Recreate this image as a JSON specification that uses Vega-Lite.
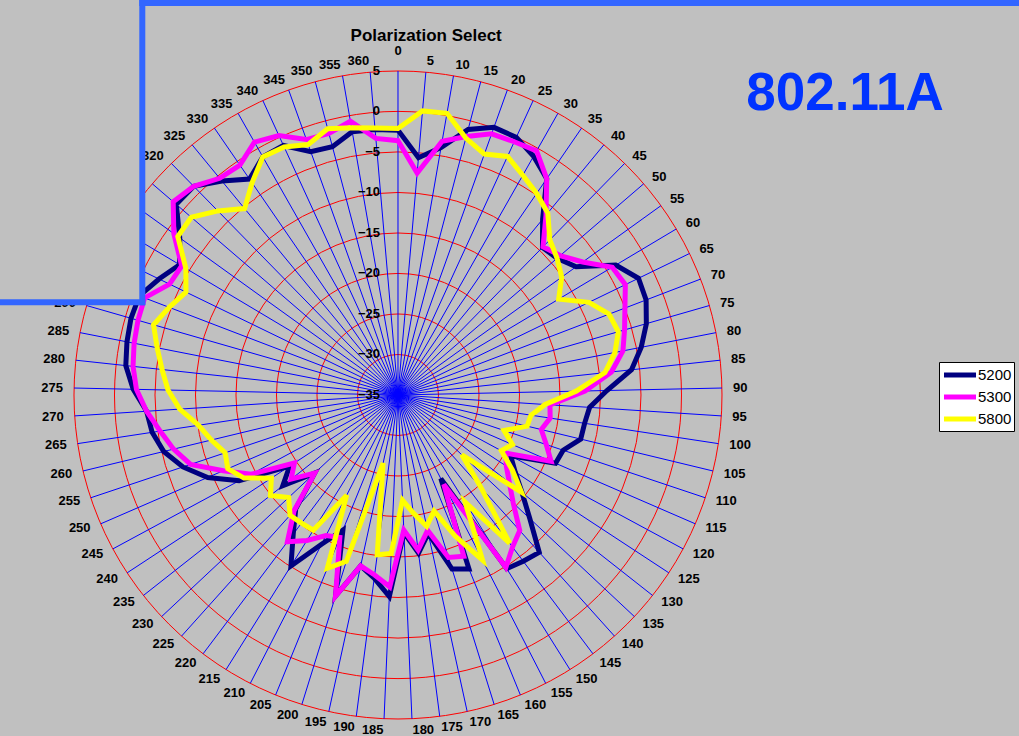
{
 "$schema": "https://vega.github.io/schema/vega-lite/v6.json",
 "width": 1019, "height": 736,
 "autosize": {"type": "none"},
 "padding": 0,
 "background": "#c0c0c0",
 "config": {"view": {"stroke": null}, "font": "Liberation Sans"},
 "datasets": {
  "angles": [{"a":0},{"a":5},{"a":10},{"a":15},{"a":20},{"a":25},{"a":30},{"a":35},{"a":40},{"a":45},{"a":50},{"a":55},{"a":60},{"a":65},{"a":70},{"a":75},{"a":80},{"a":85},{"a":90},{"a":95},{"a":100},{"a":105},{"a":110},{"a":115},{"a":120},{"a":125},{"a":130},{"a":135},{"a":140},{"a":145},{"a":150},{"a":155},{"a":160},{"a":165},{"a":170},{"a":175},{"a":180},{"a":185},{"a":190},{"a":195},{"a":200},{"a":205},{"a":210},{"a":215},{"a":220},{"a":225},{"a":230},{"a":235},{"a":240},{"a":245},{"a":250},{"a":255},{"a":260},{"a":265},{"a":270},{"a":275},{"a":280},{"a":285},{"a":290},{"a":295},{"a":300},{"a":305},{"a":310},{"a":315},{"a":320},{"a":325},{"a":330},{"a":335},{"a":340},{"a":345},{"a":350},{"a":355},{"a":360}],
  "rings": [{"v":-30},{"v":-25},{"v":-20},{"v":-15},{"v":-10},{"v":-5},{"v":0},{"v":5}],
  "ticks": [{"v":-35},{"v":-30},{"v":-25},{"v":-20},{"v":-15},{"v":-10},{"v":-5},{"v":0},{"v":5}],
  "gain": [
   {"a":0,"5200":-2.3,"5300":-3.6,"5800":-2.1},
   {"a":5,"5200":-5.6,"5300":-7.5,"5800":0.2},
   {"a":10,"5200":-4.0,"5300":-3.2,"5800":0.3},
   {"a":15,"5200":-1.1,"5300":-2.0,"5800":-2.2},
   {"a":20,"5200":0.1,"5300":-0.75,"5800":-3.4},
   {"a":25,"5200":0.0,"5300":-0.6,"5800":-2.6},
   {"a":30,"5200":-1.1,"5300":-0.35,"5800":-3.8},
   {"a":35,"5200":-2.6,"5300":-2.6,"5800":-4.8},
   {"a":40,"5200":-6.9,"5300":-6.25,"5800":-5.9},
   {"a":45,"5200":-9.5,"5300":-9.4,"5800":-8.2},
   {"a":50,"5200":-9.1,"5300":-8.6,"5800":-9.1},
   {"a":55,"5200":-7.9,"5300":-6.9,"5800":-10.1},
   {"a":60,"5200":-3.7,"5300":-4.2,"5800":-11.9},
   {"a":65,"5200":-2.0,"5300":-3.8,"5800":-8.8},
   {"a":70,"5200":-2.2,"5300":-5.0,"5800":-7.1},
   {"a":75,"5200":-3.1,"5300":-5.9,"5800":-6.7},
   {"a":80,"5200":-4.4,"5300":-6.7,"5800":-7.7},
   {"a":85,"5200":-6.0,"5300":-8.5,"5800":-9.3},
   {"a":90,"5200":-9.2,"5300":-11.9,"5800":-13.0},
   {"a":95,"5200":-11.3,"5300":-16.2,"5800":-16.8},
   {"a":100,"5200":-11.7,"5300":-16.0,"5800":-18.4},
   {"a":105,"5200":-11.8,"5300":-16.8,"5800":-18.6},
   {"a":110,"5200":-13.5,"5300":-15.7,"5800":-21.2},
   {"a":115,"5200":-13.8,"5300":-14.4,"5800":-19.6},
   {"a":120,"5200":-19.2,"5300":-19.9,"5800":-20.5},
   {"a":125,"5200":-17.7,"5300":-19.0,"5800":-18.1},
   {"a":130,"5200":-15.5,"5300":-17.5,"5800":-15.6},
   {"a":135,"5200":-12.7,"5300":-15.5,"5800":-24.2},
   {"a":140,"5200":-8.9,"5300":-12.5,"5800":-19.7},
   {"a":145,"5200":-9.3,"5300":-11.5,"5800":-12.1},
   {"a":150,"5200":-9.7,"5300":-9.9,"5800":-19.4},
   {"a":155,"5200":-23.4,"5300":-22.6,"5800":-12.1},
   {"a":160,"5200":-11.8,"5300":-13.5,"5800":-16.1},
   {"a":165,"5200":-12.5,"5300":-14.0,"5800":-20.0},
   {"a":170,"5200":-17.5,"5300":-17.9,"5800":-18.4},
   {"a":175,"5200":-15.3,"5300":-15.7,"5800":-20.3},
   {"a":180,"5200":-18.0,"5300":-18.3,"5800":-22.0},
   {"a":185,"5200":-10.1,"5300":-11.3,"5800":-15.4},
   {"a":190,"5200":-12.2,"5300":-12.6,"5800":-15.1},
   {"a":195,"5200":-13.4,"5300":-13.4,"5800":-26.4},
   {"a":200,"5200":-9.0,"5300":-9.0,"5800":-13.5},
   {"a":205,"5200":-17.0,"5300":-16.0,"5800":-11.9},
   {"a":210,"5200":-14.3,"5300":-15.5,"5800":-21.1},
   {"a":215,"5200":-10.1,"5300":-13.8,"5800":-15.3},
   {"a":220,"5200":-13.5,"5300":-12.3,"5800":-15.2},
   {"a":225,"5200":-16.1,"5300":-15.8,"5800":-15.05},
   {"a":230,"5200":-20.9,"5300":-20.9,"5800":-16.5},
   {"a":235,"5200":-16.9,"5300":-18.2,"5800":-14.95},
   {"a":240,"5200":-19.0,"5300":-19.7,"5800":-16.3},
   {"a":245,"5200":-12.7,"5300":-14.4,"5800":-13.4},
   {"a":250,"5200":-9.4,"5300":-11.5,"5800":-12.1},
   {"a":255,"5200":-7.0,"5300":-8.0,"5800":-12.5},
   {"a":260,"5200":-5.25,"5300":-6.5,"5800":-11.3},
   {"a":265,"5200":-4.3,"5300":-5.3,"5800":-10.1},
   {"a":270,"5200":-3.9,"5300":-3.9,"5800":-8.0},
   {"a":275,"5200":-2.3,"5300":-2.7,"5800":-6.6},
   {"a":280,"5200":-1.2,"5300":-2.1,"5800":-5.7},
   {"a":285,"5200":-0.9,"5300":-1.8,"5800":-4.7},
   {"a":290,"5200":-0.7,"5300":-1.6,"5800":-3.6},
   {"a":295,"5200":-0.8,"5300":-1.5,"5800":-4.75},
   {"a":300,"5200":-2.2,"5300":-3.65,"5800":-5.9},
   {"a":305,"5200":-3.6,"5300":-3.9,"5800":-4.5},
   {"a":310,"5200":-1.8,"5300":-0.9,"5800":-1.5},
   {"a":315,"5200":1.1,"5300":1.6,"5800":-1.35},
   {"a":320,"5200":1.05,"5300":1.05,"5800":-3.2},
   {"a":325,"5200":-0.8,"5300":-0.35,"5800":-5.2},
   {"a":330,"5200":-2.65,"5300":-0.55,"5800":-3.2},
   {"a":335,"5200":-1.2,"5300":0.9,"5800":-1.2},
   {"a":340,"5200":-1.1,"5300":0.25,"5800":-1.3},
   {"a":345,"5200":-3.1,"5300":-1.5,"5800":-2.15},
   {"a":350,"5200":-3.3,"5300":-1.6,"5800":-1.0},
   {"a":355,"5200":-2.0,"5300":-0.7,"5800":-1.5},
   {"a":360,"5200":-2.1,"5300":-3.2,"5800":-1.9}
  ]
 },
 "layer": [
  {
   "data": {"name": "rings"},
   "transform": [{"calculate": "pow(16.2*(datum.v+35),2)", "as": "sz"}, {"calculate": "0", "as": "cx"}],
   "mark": {"type": "point", "shape": "circle", "filled": false, "stroke": "#ff0000", "strokeWidth": 1, "opacity": 1},
   "encoding": {
    "x": {"field": "cx", "type": "quantitative", "scale": {"domain": [-49.136, 76.667], "nice": false, "zero": false}, "axis": null},
    "y": {"field": "cx", "type": "quantitative", "scale": {"domain": [-42.099, 48.765], "nice": false, "zero": false}, "axis": null},
    "size": {"field": "sz", "type": "quantitative", "scale": null, "legend": null}
   }
  },
  {
   "data": {"name": "angles"},
   "transform": [
    {"calculate": "datum.a/5*2*PI/73", "as": "th"},
    {"calculate": "0", "as": "cx"},
    {"calculate": "40*sin(datum.th)", "as": "ex"},
    {"calculate": "40*cos(datum.th)", "as": "ey"}
   ],
   "mark": {"type": "rule", "color": "#0000ff", "strokeWidth": 1},
   "encoding": {
    "x": {"field": "cx", "type": "quantitative", "scale": {"domain": [-49.136, 76.667], "nice": false, "zero": false}, "axis": null},
    "y": {"field": "cx", "type": "quantitative", "scale": {"domain": [-42.099, 48.765], "nice": false, "zero": false}, "axis": null},
    "x2": {"field": "ex"},
    "y2": {"field": "ey"}
   }
  },
  {
   "data": {"name": "gain"},
   "transform": [
    {"fold": ["5200", "5300", "5800"], "as": ["s", "value"]},
    {"calculate": "datum.a/5*2*PI/73", "as": "th"},
    {"calculate": "(datum.value+35)*sin(datum.th)", "as": "px"},
    {"calculate": "(datum.value+35)*cos(datum.th)", "as": "py"}
   ],
   "mark": {"type": "line", "interpolate": "linear-closed", "strokeWidth": 5},
   "encoding": {
    "x": {"field": "px", "type": "quantitative", "scale": {"domain": [-49.136, 76.667], "nice": false, "zero": false}, "axis": null},
    "y": {"field": "py", "type": "quantitative", "scale": {"domain": [-42.099, 48.765], "nice": false, "zero": false}, "axis": null},
    "order": {"field": "a", "type": "quantitative"},
    "color": {
     "field": "s", "type": "nominal",
     "scale": {"domain": ["5200", "5300", "5800"], "range": ["#000080", "#ff00ff", "#ffff00"]},
     "legend": {"orient": "none", "legendX": 939, "legendY": 362, "title": null, "fillColor": "#ffffff", "strokeColor": "#000000", "padding": 2, "symbolType": "M-1.88,0H1.88", "symbolSize": 289, "symbolStrokeWidth": 5, "symbolOffset": 8, "labelFontSize": 15, "labelFont": "Liberation Sans", "labelColor": "#000000", "rowPadding": 1, "labelOffset": 7}
    }
   }
  },
  {
   "data": {"name": "ticks"},
   "transform": [{"calculate": "datum.v+35", "as": "r"}, {"calculate": "0", "as": "cx"}, {"calculate": "format(datum.v, 'd')", "as": "lab"}],
   "mark": {"type": "text", "align": "right", "baseline": "middle", "dx": -18, "fontSize": 13, "fontWeight": "bold", "color": "#000000"},
   "encoding": {
    "x": {"field": "cx", "type": "quantitative", "scale": {"domain": [-49.136, 76.667], "nice": false, "zero": false}, "axis": null},
    "y": {"field": "r", "type": "quantitative", "scale": {"domain": [-42.099, 48.765], "nice": false, "zero": false}, "axis": null},
    "text": {"field": "lab", "type": "nominal"}
   }
  },
  {
   "data": {"name": "angles"},
   "transform": [
    {"filter": "datum.a > 0 && datum.a <= 180"},
    {"calculate": "datum.a/5*2*PI/73", "as": "th"},
    {"calculate": "41.36*sin(datum.th)", "as": "lx"},
    {"calculate": "41.36*cos(datum.th)", "as": "ly"},
    {"calculate": "'' + datum.a", "as": "lab"}
   ],
   "mark": {"type": "text", "align": "left", "baseline": "middle", "fontSize": 13, "fontWeight": "bold", "color": "#000000"},
   "encoding": {
    "x": {"field": "lx", "type": "quantitative", "scale": {"domain": [-49.136, 76.667], "nice": false, "zero": false}, "axis": null},
    "y": {"field": "ly", "type": "quantitative", "scale": {"domain": [-42.099, 48.765], "nice": false, "zero": false}, "axis": null},
    "text": {"field": "lab", "type": "nominal"}
   }
  },
  {
   "data": {"name": "angles"},
   "transform": [
    {"filter": "datum.a > 180"},
    {"calculate": "datum.a/5*2*PI/73", "as": "th"},
    {"calculate": "41.36*sin(datum.th)", "as": "lx"},
    {"calculate": "41.36*cos(datum.th)", "as": "ly"},
    {"calculate": "'' + datum.a", "as": "lab"}
   ],
   "mark": {"type": "text", "align": "right", "baseline": "middle", "fontSize": 13, "fontWeight": "bold", "color": "#000000"},
   "encoding": {
    "x": {"field": "lx", "type": "quantitative", "scale": {"domain": [-49.136, 76.667], "nice": false, "zero": false}, "axis": null},
    "y": {"field": "ly", "type": "quantitative", "scale": {"domain": [-42.099, 48.765], "nice": false, "zero": false}, "axis": null},
    "text": {"field": "lab", "type": "nominal"}
   }
  },
  {
   "data": {"name": "angles"},
   "transform": [{"filter": "datum.a == 0"}, {"calculate": "0", "as": "lx"}, {"calculate": "41.36", "as": "ly"}, {"calculate": "'' + datum.a", "as": "lab"}],
   "mark": {"type": "text", "align": "center", "baseline": "alphabetic", "dy": -5, "fontSize": 13, "fontWeight": "bold", "color": "#000000"},
   "encoding": {
    "x": {"field": "lx", "type": "quantitative", "scale": {"domain": [-49.136, 76.667], "nice": false, "zero": false}, "axis": null},
    "y": {"field": "ly", "type": "quantitative", "scale": {"domain": [-42.099, 48.765], "nice": false, "zero": false}, "axis": null},
    "text": {"field": "lab", "type": "nominal"}
   }
  },
  {
   "data": {"values": [{"t": "Polarization Select"}]},
   "transform": [{"calculate": "3.48", "as": "lx"}, {"calculate": "43.76", "as": "ly"}],
   "mark": {"type": "text", "align": "center", "baseline": "alphabetic", "fontSize": 17, "fontWeight": "bold", "color": "#000000"},
   "encoding": {
    "x": {"field": "lx", "type": "quantitative", "scale": {"domain": [-49.136, 76.667], "nice": false, "zero": false}, "axis": null},
    "y": {"field": "ly", "type": "quantitative", "scale": {"domain": [-42.099, 48.765], "nice": false, "zero": false}, "axis": null},
    "text": {"field": "t", "type": "nominal"}
   }
  },
  {
   "data": {"values": [{"t": "802.11A"}]},
   "transform": [{"calculate": "55.19", "as": "lx"}, {"calculate": "35.19", "as": "ly"}],
   "mark": {"type": "text", "align": "center", "baseline": "alphabetic", "fontSize": 53, "fontWeight": "bold", "color": "#0033ff"},
   "encoding": {
    "x": {"field": "lx", "type": "quantitative", "scale": {"domain": [-49.136, 76.667], "nice": false, "zero": false}, "axis": null},
    "y": {"field": "ly", "type": "quantitative", "scale": {"domain": [-42.099, 48.765], "nice": false, "zero": false}, "axis": null},
    "text": {"field": "t", "type": "nominal"}
   }
  },
  {
   "data": {"values": [{"k": "cover"}]},
   "transform": [{"calculate": "-49.136", "as": "x1"}, {"calculate": "-31.568", "as": "x2"}, {"calculate": "48.765", "as": "y1"}, {"calculate": "11.444", "as": "y2"}],
   "mark": {"type": "rect", "fill": "#c0c0c0"},
   "encoding": {
    "x": {"field": "x1", "type": "quantitative", "scale": {"domain": [-49.136, 76.667], "nice": false, "zero": false}, "axis": null},
    "x2": {"field": "x2"},
    "y": {"field": "y1", "type": "quantitative", "scale": {"domain": [-42.099, 48.765], "nice": false, "zero": false}, "axis": null},
    "y2": {"field": "y2"}
   }
  },
  {
   "data": {"values": [{"k": "v"}, {"k": "h"}, {"k": "t"}]},
   "transform": [
    {"calculate": "datum.k == 'v' ? -31.568 : (datum.k == 'h' ? -49.136 : -31.938)", "as": "x1"},
    {"calculate": "datum.k == 'v' ? -31.568 : (datum.k == 'h' ? -31.198 : 76.667)", "as": "x2"},
    {"calculate": "datum.k == 'v' ? 48.765 : (datum.k == 'h' ? 11.444 : 48.395)", "as": "y1"},
    {"calculate": "datum.k == 'v' ? 11.074 : (datum.k == 'h' ? 11.444 : 48.395)", "as": "y2"}
   ],
   "mark": {"type": "rule", "color": "#3366ff", "strokeWidth": 6},
   "encoding": {
    "x": {"field": "x1", "type": "quantitative", "scale": {"domain": [-49.136, 76.667], "nice": false, "zero": false}, "axis": null},
    "x2": {"field": "x2"},
    "y": {"field": "y1", "type": "quantitative", "scale": {"domain": [-42.099, 48.765], "nice": false, "zero": false}, "axis": null},
    "y2": {"field": "y2"}
   }
  }
 ]
}
